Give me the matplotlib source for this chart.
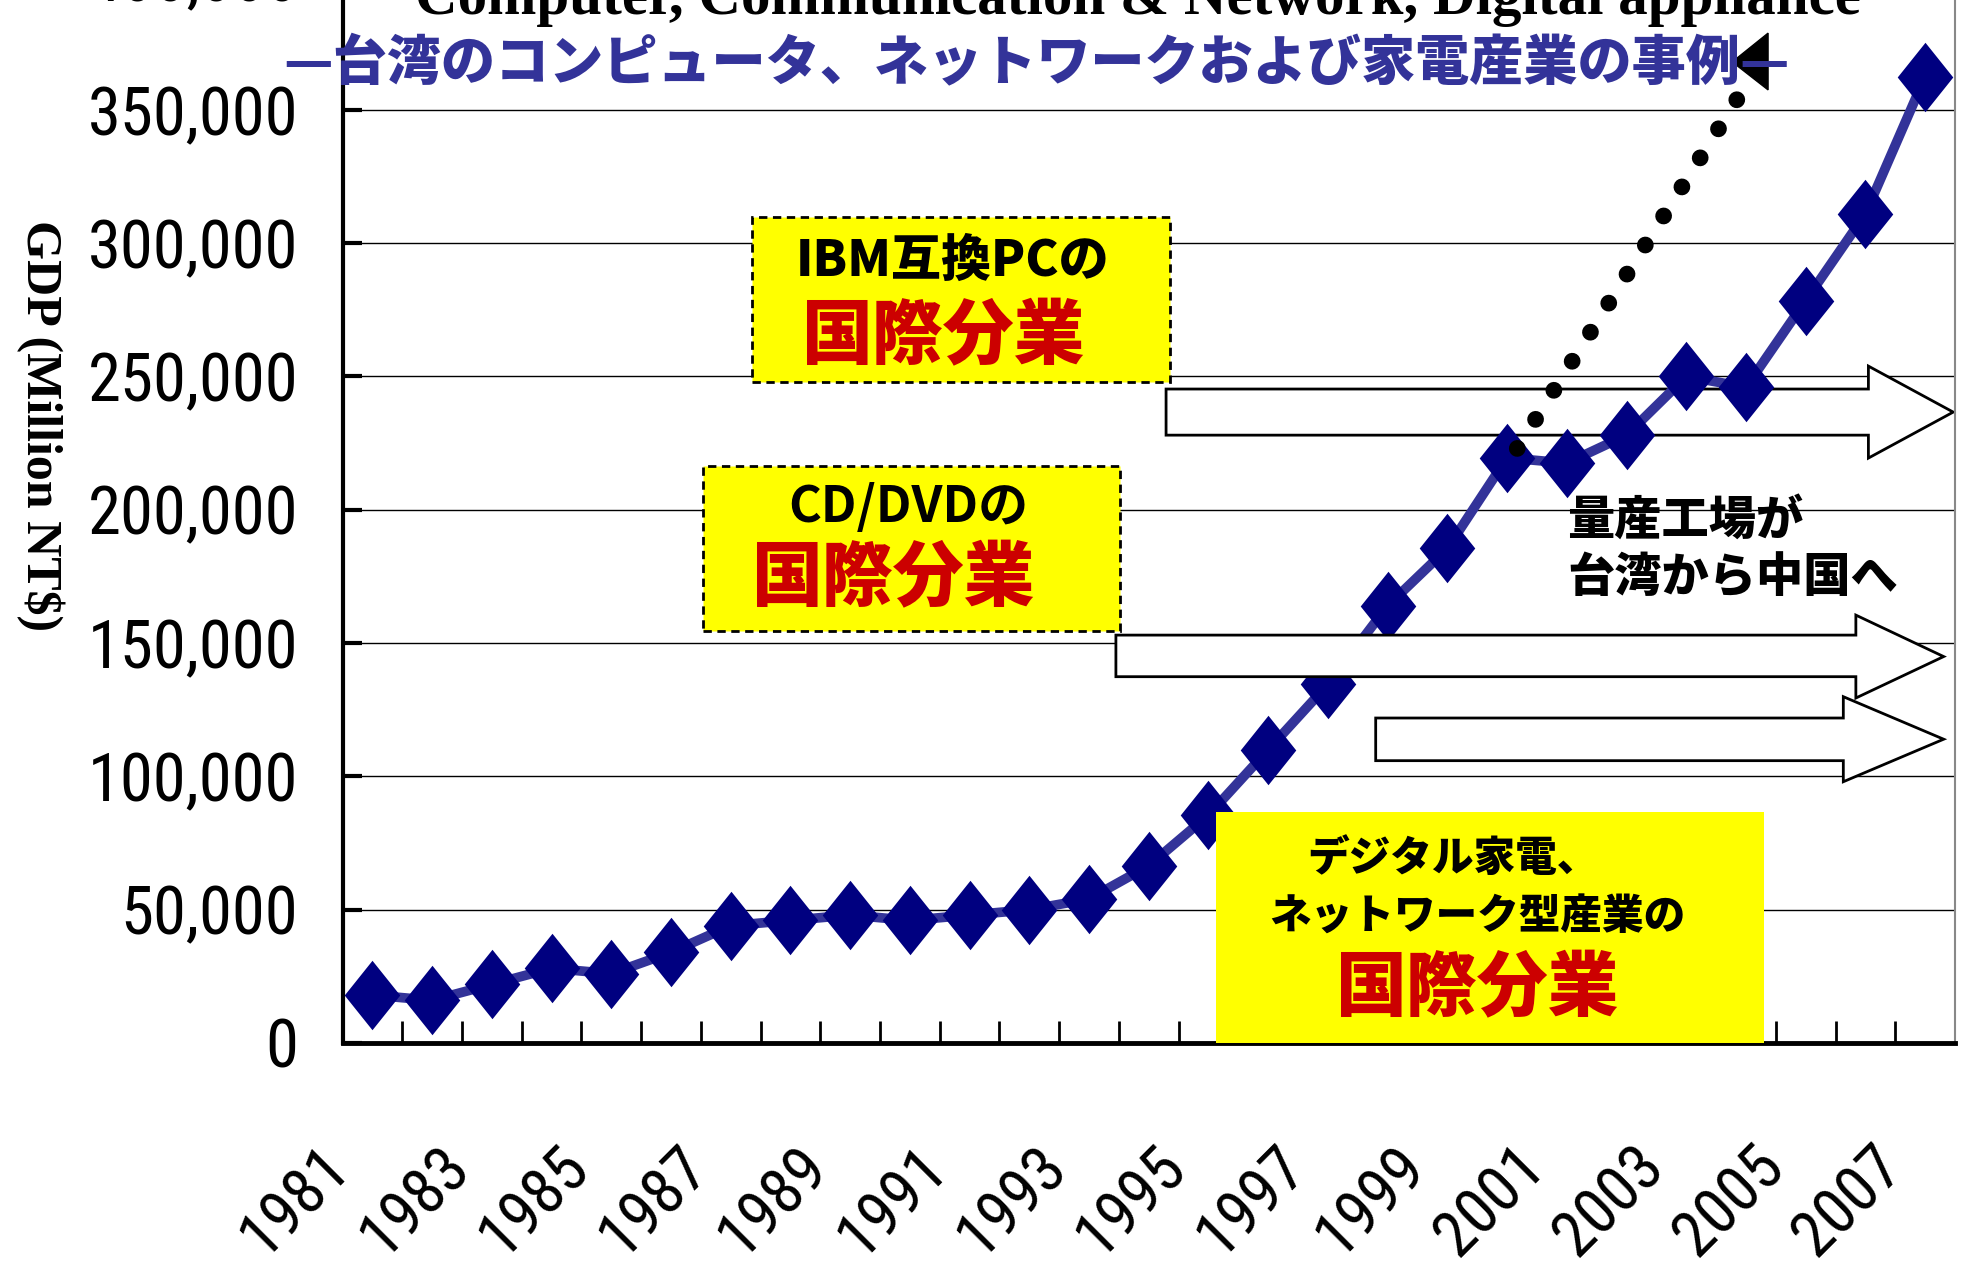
import numpy as np
import matplotlib
matplotlib.use('Agg')
import matplotlib.pyplot as plt
from matplotlib import font_manager as fm
from matplotlib.patches import Polygon, Rectangle
from matplotlib.transforms import ScaledTranslation

plt.rcParams['font.family'] = ['Noto Sans CJK JP', 'DejaVu Sans']
SERIF = ['Liberation Serif', 'DejaVu Serif']

# 数据：台湾 GDP (百万新台币)
years = list(range(1981, 2008))
gdp = [18000, 16000, 22000, 28000, 26000, 34000, 44000, 46000, 48000, 46000,
       48000, 50000, 54000, 66500, 85500, 110000, 134500, 164000, 185500, 219500,
       217500, 228000, 250000, 246000, 278500, 311000, 362500]
tick_years = years[::2]
yticks = list(range(0, 400001, 50000))

# 文字
title_en = 'Computer, Communication & Network, Digital appliance'
title_jp = '—台湾のコンピュータ、ネットワークおよび家電産業の事例—'
ylabel = 'GDP (Million NT$)'
box1_lines = ['IBM互換PCの', '国際分業']
box2_lines = ['CD/DVDの', '国際分業']
box3_lines = ['デジタル家電、', 'ネットワーク型産業の', '国際分業']
shift_text = '量産工場が\n台湾から中国へ'

# 找一个窄字体（没有就用普通 Liberation Sans 缩小）
narrow_file = None
for key in ['LiberationSansNarrow-Regular', 'RobotoCondensed-Regular',
            'NotoSans-CondensedMedium', 'NotoSans-Condensed', 'DejaVuSansCondensed.']:
    for f in fm.fontManager.ttflist:
        if key in f.fname.replace(' ', ''):
            narrow_file = f.fname
            break
    if narrow_file:
        break
if narrow_file:
    ytick_fp = fm.FontProperties(fname=narrow_file, size=48)
    xtick_fp = fm.FontProperties(fname=narrow_file, size=46)
else:
    ytick_fp = fm.FontProperties(family=['Liberation Sans', 'DejaVu Sans'], size=40)
    xtick_fp = fm.FontProperties(family=['Liberation Sans', 'DejaVu Sans'], size=38)

W, H = 1966, 1264
fig = plt.figure(figsize=(W / 100, H / 100), dpi=100)

def fx(x):
    return x / W

def fy(y):
    return 1 - y / H

# 坐标区域（上端超出画面，400,000 被裁掉）
ax = fig.add_axes([fx(342.5), fy(1043), (1955 - 342.5) / W, (1043 + 23.4) / H])
x = np.arange(len(years))

ax.plot(x, gdp, color='#333399', lw=7, zorder=3)
diamond = [(0, 1), (0.8, 0), (0, -1), (-0.8, 0), (0, 1)]
ax.plot(x, gdp, ls='none', marker=diamond, ms=50, mfc='#000080', mec='#000080',
        mew=0, zorder=4)

ax.set_xlim(-0.5, len(years) - 0.5)
ax.set_ylim(0, 400000)

ax.set_yticks(yticks)
ax.set_yticklabels([f'{v:,}' for v in yticks])
for lab in ax.get_yticklabels():
    lab.set_fontproperties(ytick_fp)
ax.yaxis.grid(True, color='black', lw=1)
ax.set_axisbelow(True)
ax.tick_params(axis='y', direction='in', length=14, width=3, pad=32)

ax.set_xticks(x[::2])
ax.set_xticklabels([str(y) for y in tick_years], rotation=45, ha='right', va='top')
ax.set_xticks(np.arange(0.5, len(years) - 0.5, 1), minor=True)
ax.tick_params(axis='x', which='major', length=0, pad=66)
ax.tick_params(axis='x', which='minor', direction='in', length=16, width=2)
for lab in ax.get_xticklabels():
    lab.set_fontproperties(xtick_fp)
    lab.set_transform(lab.get_transform() + ScaledTranslation(-0.10, 0, fig.dpi_scale_trans))

ax.spines['top'].set_visible(False)
ax.spines['left'].set_linewidth(3)
ax.spines['bottom'].set_linewidth(3.5)
ax.spines['right'].set_color('#888888')
ax.spines['right'].set_linewidth(1.5)

# 箭头（数据坐标）
def arrow(x0, xh, xt, s_lo, s_hi, h_lo, h_hi, z):
    yt = (h_lo + h_hi) / 2
    pts = [(x0, s_lo), (xh, s_lo), (xh, h_lo), (xt, yt), (xh, h_hi), (xh, s_hi), (x0, s_hi)]
    ax.add_patch(Polygon(pts, closed=True, fc='white', ec='black', lw=2,
                         zorder=z, clip_on=False))

arrow(13.29, 25.05, 26.47, 228000, 245300, 219400, 253900, 2.5)
arrow(12.45, 24.84, 26.31, 137400, 153000, 129400, 160500, 5)
arrow(16.80, 24.63, 26.31, 105900, 121900, 98000, 129900, 5)

# 点线趋势
ax.plot([19.17, 22.95], [223000, 357500], color='black', lw=12,
        ls=(0, (0.01, 2.05)), dash_capstyle='round', zorder=6, clip_on=False)
ax.add_patch(Polygon([(22.77, 368000), (23.37, 378800), (23.37, 357500)],
                     closed=True, fc='black', ec='black', zorder=6, clip_on=False))

# 标题
fig.text(fx(1138), fy(14), title_en, family=SERIF, fontweight='bold',
         fontsize=42.5, ha='center', va='baseline')
fig.text(fx(1037), fy(63), title_jp, color='#333399', fontsize=39,
         fontweight='heavy', ha='center', va='center', zorder=10)
fig.text(fx(40), fy(426), ylabel, family=SERIF, fontweight='bold',
         fontsize=36, rotation=270, ha='center', va='center')

# 黄色框
def box(x0, y0, x1, y1, dashed):
    r = Rectangle((fx(x0), fy(y1)), fx(x1) - fx(x0), fy(y0) - fy(y1),
                  transform=fig.transFigure, fc='#FFFF00',
                  ec='black' if dashed else 'none', lw=2,
                  ls=(0, (3, 2)) if dashed else '-', zorder=5)
    fig.add_artist(r)

box(752, 217, 1170, 382, True)
box(703, 466, 1120, 631, True)
box(1216, 812, 1764, 1043, False)

fig.text(fx(953), fy(261), box1_lines[0], fontsize=36, fontweight='heavy',
         ha='center', va='center', zorder=6)
fig.text(fx(944), fy(338), box1_lines[1], fontsize=51, fontweight='heavy',
         color='#CC0000', ha='center', va='center', zorder=6)
fig.text(fx(908), fy(508), box2_lines[0], fontsize=36, fontweight='bold',
         ha='center', va='center', zorder=6)
fig.text(fx(894), fy(580), box2_lines[1], fontsize=51, fontweight='heavy',
         color='#CC0000', ha='center', va='center', zorder=6)
fig.text(fx(1453), fy(859), box3_lines[0], fontsize=30, fontweight='heavy',
         ha='center', va='center', zorder=6)
fig.text(fx(1477), fy(918), box3_lines[1], fontsize=30, fontweight='heavy',
         ha='center', va='center', zorder=6)
fig.text(fx(1478), fy(990), box3_lines[2], fontsize=51, fontweight='heavy',
         color='#CC0000', ha='center', va='center', zorder=6)

fig.text(fx(1567), fy(549), shift_text, fontsize=34, fontweight='heavy',
         ha='left', va='center', linespacing=1.25, zorder=6)

fig.savefig('out.png', dpi=100)
